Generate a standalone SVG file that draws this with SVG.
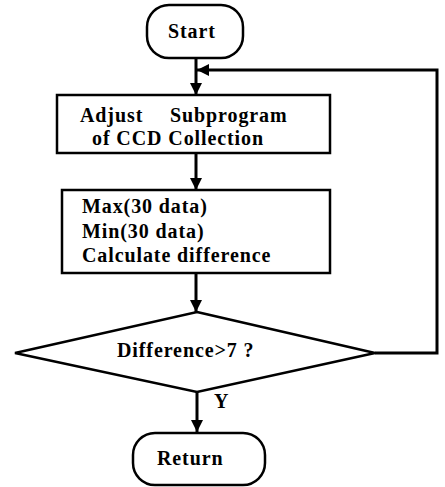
<svg xmlns="http://www.w3.org/2000/svg" width="445" height="487" viewBox="0 0 445 487">
<defs>
<marker id="ah" viewBox="0 0 10 10" refX="10" refY="5" markerWidth="12" markerHeight="12" markerUnits="userSpaceOnUse" orient="auto">
<path d="M0,0 L10,5 L0,10 z" fill="#000"/>
</marker>
<style>
.s{fill:#fff;stroke:#000;stroke-width:2.5}
.t{font-family:"Liberation Serif","Times New Roman",serif;font-weight:bold;font-size:20px;letter-spacing:0.9px;fill:#000}
.c{fill:none;stroke:#000;stroke-width:3}
</style>
</defs>
<rect width="445" height="487" fill="#fff"/>
<g id="connectors">
<line class="c" x1="196" y1="58" x2="196" y2="95" marker-end="url(#ah)"/>
<line class="c" x1="196" y1="153" x2="196" y2="190" marker-end="url(#ah)"/>
<line class="c" x1="196" y1="273" x2="196" y2="312" marker-end="url(#ah)"/>
<line class="c" x1="197" y1="392" x2="197" y2="432" marker-end="url(#ah)"/>
<polyline class="c" points="375,353 437,353 437,70 197,70" marker-end="url(#ah)"/>
<text class="t" x="214" y="408">Y</text>
</g>
<g id="start">
<rect class="s" x="147" y="5" width="96" height="53" rx="22" ry="22"/>
<text class="t" x="168" y="38">Start</text>
</g>
<g id="adjust">
<rect class="s" x="57" y="95" width="273" height="58"/>
<text class="t" y="122"><tspan x="80">Adjust</tspan><tspan x="170">Subprogram</tspan></text>
<text class="t" x="92" y="145">of CCD Collection</text>
</g>
<g id="calc">
<rect class="s" x="62" y="190" width="268" height="83"/>
<text class="t" x="82" y="213">Max(30 data)</text>
<text class="t" x="82" y="238">Min(30 data)</text>
<text class="t" x="82" y="262">Calculate difference</text>
</g>
<g id="decision">
<polygon class="s" points="197,312 375,353 197,392 15,353"/>
<text class="t" x="117" y="357">Difference&gt;7 ?</text>
</g>
<g id="return">
<rect class="s" x="133" y="433" width="132" height="52" rx="22" ry="22"/>
<text class="t" x="157" y="465">Return</text>
</g>
</svg>
